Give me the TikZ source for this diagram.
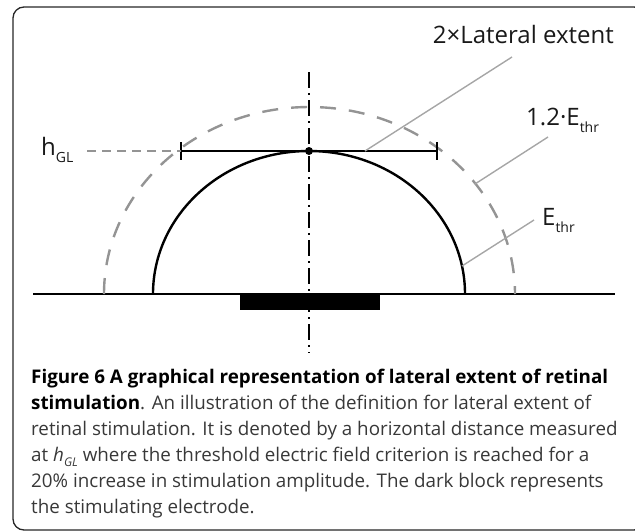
\documentclass[tikz,border=0pt]{standalone}
\usepackage{fontspec}
\setmainfont{Open Sans}
\usetikzlibrary{positioning,calc}
\newcommand{\lowsub}[2][14]{\raisebox{-0.3em}{\fontsize{#1}{#1}\selectfont #2}}
\tikzset{
  thinframe/.style={draw=black!85, line width=1.3pt, rounded corners=11pt},
  ground/.style={draw=black, line width=2.2pt},
  electrode/.style={fill=black, draw=none},
  axisline/.style={draw=black, line width=2.4pt, dash pattern=on 16pt off 5pt on 2pt off 5pt},
  fieldthr/.style={draw=black, line width=2.4pt},
  fieldhigh/.style={draw=black!42, line width=2.4pt, dash pattern=on 16pt off 13pt},
  extentbar/.style={draw=black, line width=2.6pt},
  leader/.style={draw=black!35, line width=1.4pt},
  lbl/.style={font=\fontsize{24}{24}\selectfont, inner sep=0pt, text=black!90},
  caption/.style={align=left, inner sep=0pt, font=\fontsize{18.8}{26}\selectfont, text=black!78}
}
\begin{document}
\begin{tikzpicture}[x=1pt,y=-1pt]
  \useasboundingbox (0,0) rectangle (635,531);
  \draw[thinframe] (13,7) rectangle (645,530);

  % retina and electrode
  \draw[ground] (33,294) coordinate (gl) -- (615,294) coordinate (gr);
  \fill[electrode] (240,294) rectangle (380,310);
  \draw[axisline] (309,72) coordinate (axtop) -- (309,353) coordinate (axbot);

  % threshold contours
  \draw[fieldhigh] (104,294) arc[start angle=180, end angle=360, x radius=205.5, y radius=187];
  \draw[fieldthr] (153,294) arc[start angle=180, end angle=360, x radius=156, y radius=143];

  % lateral extent at h_GL
  \coordinate (top) at (309,151);
  \coordinate (barl) at (181,151);
  \coordinate (barr) at (437,151);
  \draw[extentbar] (barl) -- (barr);
  \draw[extentbar] ($(barl)+(0,-9)$) -- ($(barl)+(0,9)$);
  \draw[extentbar] ($(barr)+(0,-9)$) -- ($(barr)+(0,9)$);
  \fill (top) circle (4);

  % labels
  \node[lbl, anchor=base west] (hgl) at (41,155) {h\lowsub{GL}};
  \draw[fieldhigh, line width=2pt, dash pattern=on 9pt off 6pt] (87,151) -- (barl);
  \node[lbl, anchor=base east] (lat) at (614,43) {2×Lateral extent};
  \coordinate (latfoot) at (365,151);
  \draw[leader] (latfoot) -- (512,57);
  \node[lbl, anchor=base west] (high) at (526,125) {1.2·E\lowsub{thr}};
  \coordinate (highfoot) at (475,184);
  \draw[leader] (highfoot) -- (548,137);
  \node[lbl, anchor=base west] (thr) at (542,225) {E\lowsub{thr}};
  \coordinate (thrfoot) at (462,266);
  \draw[leader] (thrfoot) -- (534,220);

  % caption (anchored at the baseline of its last line)
  \node[caption, anchor=base west] (cap) at (31,513) {%
    {\bfseries\color{black}Figure 6 A graphical representation of lateral extent of retinal}\\
    {\bfseries\color{black}stimulation}. An illustration of the definition for lateral extent of\\
    retinal stimulation. It is denoted by a horizontal distance measured\\
    at \textit{h\lowsub[12]{GL}} where the threshold electric field criterion is reached for a\\
    20\% increase in stimulation amplitude. The dark block represents\\
    the stimulating electrode.};
\end{tikzpicture}
\end{document}
